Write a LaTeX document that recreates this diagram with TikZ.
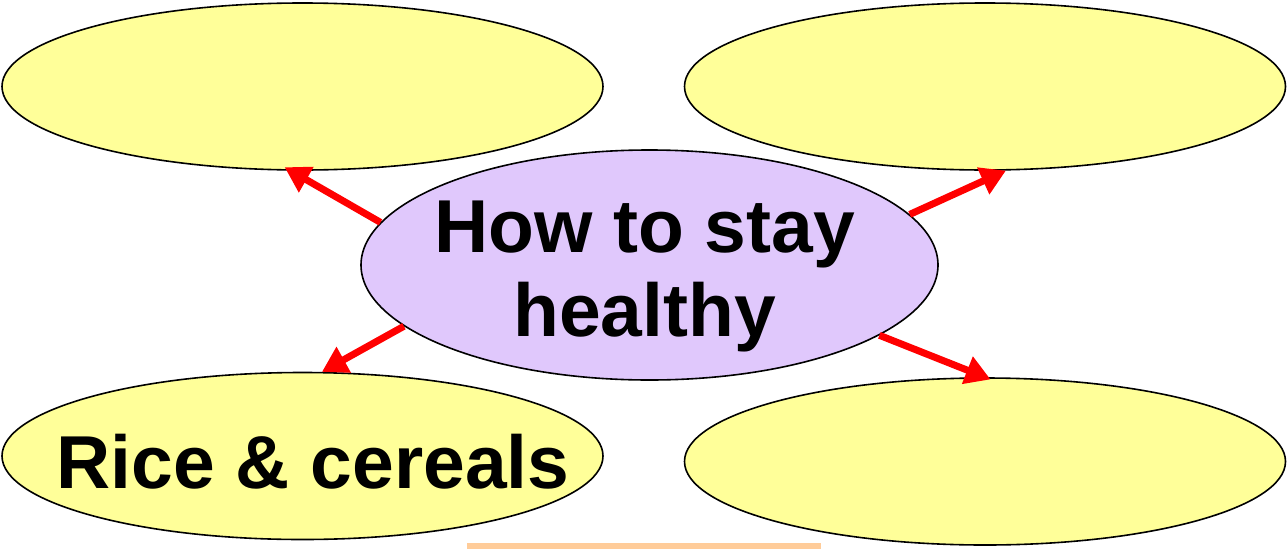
\documentclass[tikz,border=0pt]{standalone}
\usepackage{fontspec}
\setmainfont{Liberation Sans}
\usepackage{xcolor}
\usetikzlibrary{arrows.meta, shapes.geometric}

\definecolor{hubfill}{HTML}{E0C8FC}
\definecolor{leaffill}{HTML}{FFFF99}
\definecolor{barfill}{HTML}{FFCC99}

\begin{document}
\begin{tikzpicture}[x=1pt, y=-1pt,
      leaf/.style={
        ellipse,
        draw,
        line width=1.6pt,
        fill=leaffill,
        minimum width=601pt,
        minimum height=167pt,
        inner sep=0pt
      },
      hub/.style={
        ellipse,
        draw,
        line width=1.6pt,
        fill=hubfill,
        minimum width=577pt,
        minimum height=230pt,
        inner sep=0pt
      },
      caption/.style={
        align=center,
        inner sep=0pt,
        font=\fontsize{75}{84}\selectfont\bfseries
      },
      link/.style={red, line width=7pt, -{Triangle[length=25pt,width=28pt]}},
      >=Triangle]

    \useasboundingbox (0,0) rectangle (1287,549);

    \node[leaf] (tl) at (302.5,86.5) {};
    \node[leaf] (tr) at (985,86.5) {};
    \node[leaf] (bl) at (302.5,456) {};
    \node[leaf] (br) at (985,461.5) {};
    \node[hub] (hub) at (649.5,265) {};

    \node[caption] (hubtext) at (644.5,276) {How to stay\\healthy};
    \node[caption] (bltext) at (313,462) {Rice \& cereals};

    \fill[barfill] (467,543) rectangle (821,549);

    \draw[link, shorten >=-7pt] (hub.171) -- (tl.262);
    \draw[link] (hub.11) -- (tr.284);
    \draw[link] (hub.194) -- (bl.77);
    \draw[link, shorten >=-6pt] (hub.343) -- (br.90);
\end{tikzpicture}
\end{document}
